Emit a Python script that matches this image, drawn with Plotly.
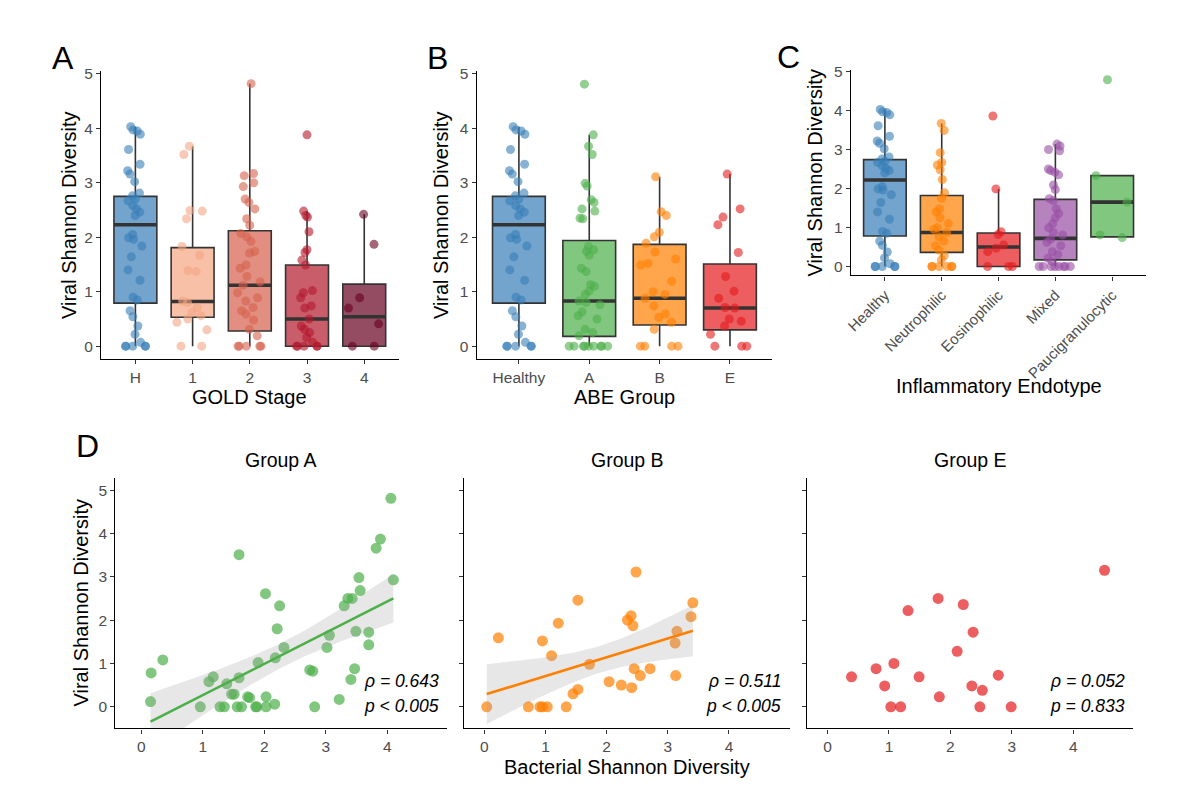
import numpy as np
import plotly.graph_objects as go

# ---------------------------------------------------------------
# data: viral Shannon diversity per group
healthy = [4.03, 3.97, 3.95, 3.89, 3.61, 3.34, 3.22, 3.16, 3.02, 2.81, 2.76, 2.70,
           2.67, 2.58, 2.52, 2.46, 2.40, 2.05, 1.99, 1.96, 1.84, 1.64, 1.40, 1.21,
           0.90, 0.85, 0.65, 0.54, 0.37, 0.22, 0.07, 0, 0, 0, 0, 0]
gold1 = [3.67, 3.52, 2.49, 2.48, 2.34, 1.83, 1.67, 1.39, 1.37, 0.83, 0.80, 0.71,
         0.62, 0.56, 0.50, 0.44, 0.30, 0, 0]
gold2 = [4.82, 3.17, 3.13, 3.00, 2.93, 2.70, 2.64, 2.52, 2.34, 2.22, 2.07, 2.01,
         1.92, 1.74, 1.71, 1.49, 1.43, 1.28, 1.18, 1.12, 0.98, 0.89, 0.83, 0.71,
         0.65, 0.59, 0.48, 0.31, 0.19, 0, 0, 0, 0, 0]
gold3 = [3.88, 2.48, 2.40, 2.37, 2.10, 1.77, 1.72, 1.58, 1.49, 1.02, 0.98, 0.89,
         0.74, 0.70, 0.50, 0.37, 0.31, 0.25, 0.16, 0.07, 0, 0, 0, 0, 0]
gold4 = [2.42, 1.87, 0.89, 0.70, 0.41, 0, 0]

abe_a = [4.81, 3.88, 3.67, 3.52, 2.99, 2.94, 2.69, 2.64, 2.52, 2.48, 2.35, 2.34,
         1.83, 1.77, 1.74, 1.67, 1.43, 1.37, 1.13, 1.10, 1.01, 0.95, 0.83, 0.80,
         0.76, 0.63, 0.56, 0.50, 0.31, 0.25, 0.19, 0, 0, 0, 0, 0, 0, 0, 0, 0]
abe_b = [3.11, 2.47, 2.40, 2.09, 2.01, 1.89, 1.73, 1.60, 1.52, 1.49, 1.19, 1.00,
         0.95, 0.88, 0.74, 0.59, 0.53, 0.44, 0.31, 0, 0, 0, 0]
abe_e = [3.16, 2.52, 2.37, 2.23, 1.72, 1.28, 1.01, 0.88, 0.71, 0.70, 0.50, 0.46,
         0.37, 0.22, 0, 0, 0]

neutro = [3.67, 3.49, 2.92, 2.67, 2.60, 2.48, 2.23, 1.89, 1.75, 1.48, 1.40, 1.25,
          1.10, 0.99, 0.95, 0.87, 0.76, 0.65, 0.53, 0.42, 0.28, 0.17, 0, 0, 0, 0, 0, 0]
eosino = [3.86, 1.99, 0.89, 0.82, 0.55, 0.47, 0.38, 0, 0, 0]
mixed = [3.14, 3.09, 3.00, 2.97, 2.50, 2.46, 2.42, 2.35, 2.09, 1.97, 1.74, 1.69,
         1.48, 1.36, 1.25, 1.10, 0.99, 0.87, 0.81, 0.70, 0.62, 0.53, 0.38, 0.30,
         0.21, 0.13, 0, 0, 0, 0, 0, 0, 0, 0]
pauci = [4.79, 2.33, 1.65, 0.81, 0.74]

# box summaries as drawn (q1, median, q3, lower whisker, upper whisker)
gold_cats = ["H", "1", "2", "3", "4"]
gold_q1 = [0.79, 0.53, 0.28, 0.00, 0.00]
gold_med = [2.23, 0.82, 1.12, 0.50, 0.54]
gold_q3 = [2.75, 1.81, 2.12, 1.49, 1.14]
gold_lo = [0, 0, 0, 0, 0]
gold_hi = [4.03, 3.67, 4.82, 2.48, 2.42]

abe_cats = ["Healthy", "A", "B", "E"]
abe_q1 = [0.79, 0.18, 0.39, 0.30]
abe_med = [2.23, 0.83, 0.88, 0.70]
abe_q3 = [2.75, 1.94, 1.87, 1.51]
abe_lo = [0, 0, 0, 0]
abe_hi = [4.03, 3.88, 3.11, 3.16]

endo_cats = ["Healthy", "Neutrophilic", "Eosinophilic", "Mixed", "Paucigranulocytic"]
endo_q1 = [0.78, 0.36, 0.00, 0.17, 0.76]
endo_med = [2.22, 0.87, 0.50, 0.72, 1.65]
endo_q3 = [2.74, 1.82, 0.86, 1.72, 2.33]
endo_lo = [0, 0, 0, 0, 0.74]
endo_hi = [4.03, 3.67, 1.99, 3.14, 2.33]

# panel D: bacterial vs viral Shannon diversity
grpA_bact = [0.15, 0.16, 0.35, 0.96, 1.10, 1.17, 1.28, 1.35, 1.39, 1.47, 1.51, 1.56,
             1.59, 1.59, 1.63, 1.73, 1.76, 1.86, 1.88, 1.90, 2.02, 2.03, 2.03, 2.17,
             2.18, 2.21, 2.25, 2.32, 2.74, 2.79, 2.82, 3.02, 3.06, 3.22, 3.30, 3.36,
             3.43, 3.41, 3.47, 3.49, 3.54, 3.56, 3.70, 3.70, 3.82, 3.89, 4.06, 4.10]
grpA_viral = [0.12, 0.78, 1.08, 0, 0.58, 0.69, 0, 0, 0.53, 0.29, 0.29, 0,
              0.67, 3.51, 0, 0.23, 0.21, 0, 0, 1.02, 2.61, 0.23, 0, 0.06,
              1.13, 1.80, 2.33, 1.37, 0.85, 0.82, 0, 1.37, 1.65, 0.17, 2.33, 2.50,
              2.50, 0.63, 0.88, 1.74, 2.98, 2.68, 1.72, 1.43, 3.66, 3.87, 4.81, 2.93]
grpB_bact = [0.04, 0.23, 0.72, 0.91, 0.95, 0.95, 1.03, 1.10, 1.21, 1.34, 1.45, 1.53,
             1.53, 1.72, 2.04, 2.24, 2.34, 2.40, 2.41, 2.43, 2.45, 2.48, 2.55, 2.71,
             3.12, 3.13, 3.15, 3.38, 3.41]
grpB_viral = [0, 1.59, 0, 0, 0, 1.52, 0, 1.18, 1.93, 0, 0.30, 0.40,
              2.46, 0.98, 0.58, 0.50, 2.00, 2.10, 0.44, 1.87, 0.88, 3.11, 0.72, 0.88,
              1.47, 0.72, 1.74, 2.08, 2.40]
grpE_bact = [0.39, 0.79, 0.93, 1.03, 1.08, 1.19, 1.31, 1.49, 1.80, 1.82, 2.11, 2.21,
             2.35, 2.37, 2.48, 2.52, 2.78, 2.99, 4.51]
grpE_viral = [0.69, 0.88, 0.48, 0, 1.00, 0, 2.22, 0.69, 2.50, 0.23, 1.28, 2.36,
              0.48, 1.72, 0, 0.38, 0.73, 0, 3.15]
rho_text = ["ρ = 0.643", "ρ = 0.511", "ρ = 0.052"]
p_text = ["p < 0.005", "p < 0.005", "p = 0.833"]
t_crit = [2.013, 2.052]   # 95% t quantiles for the lm bands (A, B)

# ---------------------------------------------------------------
BLUE, GREEN, ORANGE, RED, PURPLE = "#377EB8", "#4DAF4A", "#FF7F00", "#E41A1C", "#984EA3"
gold_cols = [BLUE, "#F4A582", "#D6604D", "#B2182B", "#67001F"]
abe_cols = [BLUE, GREEN, ORANGE, RED]
endo_cols = [BLUE, ORANGE, RED, PURPLE, GREEN]
FONT = "Liberation Sans, Arial, sans-serif"
W, H = 1200, 805
OFF = 8   # page body margin of the written html


def rgba(hexc, a):
    h = hexc.lstrip("#")
    return "rgba(%d,%d,%d,%.2f)" % (int(h[0:2], 16), int(h[2:4], 16), int(h[4:6], 16), a)


fig = go.Figure()


def box_panel(n, cats, groups, q1, med, q3, lo, hi, cols):
    xa, ya = "x%d" % n if n > 1 else "x", "y%d" % n if n > 1 else "y"
    for i, c in enumerate(cats):
        fig.add_trace(go.Box(x=[c], q1=[q1[i]], median=[med[i]], q3=[q3[i]],
                             lowerfence=[lo[i]], upperfence=[hi[i]], width=0.75,
                             fillcolor=rgba(cols[i], 0.7), whiskerwidth=0,
                             line=dict(color="#333333", width=1.6), boxpoints=False,
                             xaxis=xa, yaxis=ya, showlegend=False, hoverinfo="skip"))
        # thicker median bar like ggplot
        fig.add_trace(go.Box(x=[c], q1=[med[i]], median=[med[i]], q3=[med[i]],
                             lowerfence=[med[i]], upperfence=[med[i]], width=0.75,
                             fillcolor="rgba(0,0,0,0)", whiskerwidth=0,
                             line=dict(color="#333333", width=3.6), boxpoints=False,
                             xaxis=xa, yaxis=ya, showlegend=False, hoverinfo="skip"))
    for i, c in enumerate(cats):
        vals = groups[i]
        fig.add_trace(go.Box(x=[c] * len(vals), y=vals, boxpoints="all", jitter=0.9,
                             pointpos=0, width=0.75, fillcolor="rgba(0,0,0,0)",
                             line=dict(color="rgba(0,0,0,0)", width=0),
                             marker=dict(color=rgba(cols[i], 0.6), size=9,
                                         line=dict(width=0)),
                             xaxis=xa, yaxis=ya, showlegend=False, hoverinfo="y"))


box_panel(1, gold_cats, [healthy, gold1, gold2, gold3, gold4],
          gold_q1, gold_med, gold_q3, gold_lo, gold_hi, gold_cols)
box_panel(2, abe_cats, [healthy, abe_a, abe_b, abe_e],
          abe_q1, abe_med, abe_q3, abe_lo, abe_hi, abe_cols)
box_panel(3, endo_cats, [healthy, neutro, eosino, mixed, pauci],
          endo_q1, endo_med, endo_q3, endo_lo, endo_hi, endo_cols)


def lm_band(x, y, t):
    x, y = np.asarray(x, float), np.asarray(y, float)
    b1, b0 = np.polyfit(x, y, 1)
    xs = np.linspace(x.min(), x.max(), 80)
    fit = b0 + b1 * xs
    s = np.sqrt(((y - (b0 + b1 * x)) ** 2).sum() / (len(x) - 2))
    se = s * np.sqrt(1 / len(x) + (xs - x.mean()) ** 2 / ((x - x.mean()) ** 2).sum())
    return xs, fit, fit - t * se, fit + t * se


scatter_sets = [(grpA_bact, grpA_viral, GREEN), (grpB_bact, grpB_viral, ORANGE),
                (grpE_bact, grpE_viral, RED)]
for k, (bx, vy, col) in enumerate(scatter_sets):
    xa, ya = "x%d" % (k + 4), "y%d" % (k + 4)
    fig.add_trace(go.Scatter(x=bx, y=vy, mode="markers", xaxis=xa, yaxis=ya,
                             marker=dict(color=rgba(col, 0.7), size=11, line=dict(width=0)),
                             showlegend=False))
    if k < 2:
        xs, fit, lo, hi = lm_band(bx, vy, t_crit[k])
        fig.add_trace(go.Scatter(x=np.concatenate([xs, xs[::-1]]),
                                 y=np.concatenate([hi, lo[::-1]]),
                                 fill="toself", fillcolor="rgba(160,160,160,0.25)",
                                 line=dict(width=0), mode="lines", xaxis=xa, yaxis=ya,
                                 showlegend=False, hoverinfo="skip"))
        fig.add_trace(go.Scatter(x=xs, y=fit, mode="lines", xaxis=xa, yaxis=ya,
                                 line=dict(color=col, width=2.6), showlegend=False))


# ---------------------------------------------------------------
# positions below are screen pixels of the reference, shifted by the page margin
def px(v):
    return (v - OFF) / W


def py(v):
    return 1 - (v - OFF) / H


axis_common = dict(showline=True, linecolor="black", linewidth=1.3, ticks="outside",
                   ticklen=4, tickwidth=1.2, tickcolor="#333333", showgrid=False,
                   zeroline=False, tickfont=dict(size=15.5, color="#4D4D4D", family=FONT))

layout = dict(width=W, height=H, margin=dict(l=0, r=0, t=0, b=0),
              paper_bgcolor="white", plot_bgcolor="white", boxmode="overlay",
              font=dict(family=FONT), showlegend=False)

ybox = dict(range=[-0.235, 5.05], tickvals=[0, 1, 2, 3, 4, 5], **axis_common)
layout["xaxis"] = dict(domain=[px(95.5), px(394.5)], anchor="y", type="category",
                       categoryorder="array", categoryarray=gold_cats,
                       range=[-0.6, 4.6], **axis_common)
layout["yaxis"] = dict(domain=[py(355), py(64.6)], anchor="x", **ybox)
layout["xaxis2"] = dict(domain=[px(473), px(770)], anchor="y2", type="category",
                        categoryorder="array", categoryarray=abe_cats,
                        range=[-0.6, 3.6], **axis_common)
layout["yaxis2"] = dict(domain=[py(355), py(64.6)], anchor="x2", **ybox)
xc = dict(axis_common)
xc["tickfont"] = dict(size=15, color="#4D4D4D", family=FONT)
layout["xaxis3"] = dict(domain=[px(849), px(1146)], anchor="y3", type="category",
                        categoryorder="array", categoryarray=endo_cats,
                        range=[-0.6, 4.6], tickangle=-45, **xc)
layout["yaxis3"] = dict(domain=[py(270.7), py(63.5)], anchor="x3",
                        range=[-0.23, 5.04], tickvals=[0, 1, 2, 3, 4, 5], **axis_common)

d_dom = [(110, 443), (460.7, 788), (805, 1133)]
d_rng = [[-0.42, 4.97], [-0.325, 5.0], [-0.335, 4.98]]
for k in range(3):
    n = k + 4
    layout["xaxis%d" % n] = dict(domain=[px(d_dom[k][0]), px(d_dom[k][1])],
                                 anchor="y%d" % n, range=d_rng[k],
                                 tickvals=[0, 1, 2, 3, 4], **axis_common)
    layout["yaxis%d" % n] = dict(domain=[py(727.7), py(475)], anchor="x%d" % n,
                                 range=[-0.5, 5.28], tickvals=[0, 1, 2, 3, 4, 5],
                                 showticklabels=(k == 0), **axis_common)

ann = []


def text(x, y, s, size=20, angle=0, xanchor="center", xref="paper", yref="paper"):
    ann.append(dict(x=x, y=y, text=s, xref=xref, yref=yref, showarrow=False,
                    textangle=angle, xanchor=xanchor, yanchor="middle",
                    font=dict(size=size, color="black", family=FONT)))


# panel letters
text(px(57), py(51), "A", size=32)
text(px(434), py(51), "B", size=32)
text(px(786), py(50), "C", size=32)
text(px(82), py(443), "D", size=32)
# axis titles
text(px(64), py(210), "Viral Shannon Diversity", angle=-90)
text(px(437), py(210), "Viral Shannon Diversity", angle=-90)
text(px(813), py(167), "Viral Shannon Diversity", angle=-90)
text(px(75), py(601), "Viral Shannon Diversity", angle=-90)
text(px(245), py(393), "GOLD Stage")
text(px(621.5), py(393), "ABE Group")
text(px(997.5), py(382), "Inflammatory Endotype")
text(px(624), py(767), "Bacterial Shannon Diversity")
# facet titles and correlation labels
for k, name in enumerate(["Group A", "Group B", "Group E"]):
    text(px((d_dom[k][0] + d_dom[k][1]) / 2), py(457), name, size=19.5)
    text(4.88, 0.6, "<i>%s</i>" % rho_text[k], size=17.5, xanchor="right",
         xref="x%d" % (k + 4), yref="y%d" % (k + 4))
    text(4.88, 0.02, "<i>%s</i>" % p_text[k], size=17.5, xanchor="right",
         xref="x%d" % (k + 4), yref="y%d" % (k + 4))

layout["annotations"] = ann
fig.update_layout(**layout)

fig.write_html("out.html")
